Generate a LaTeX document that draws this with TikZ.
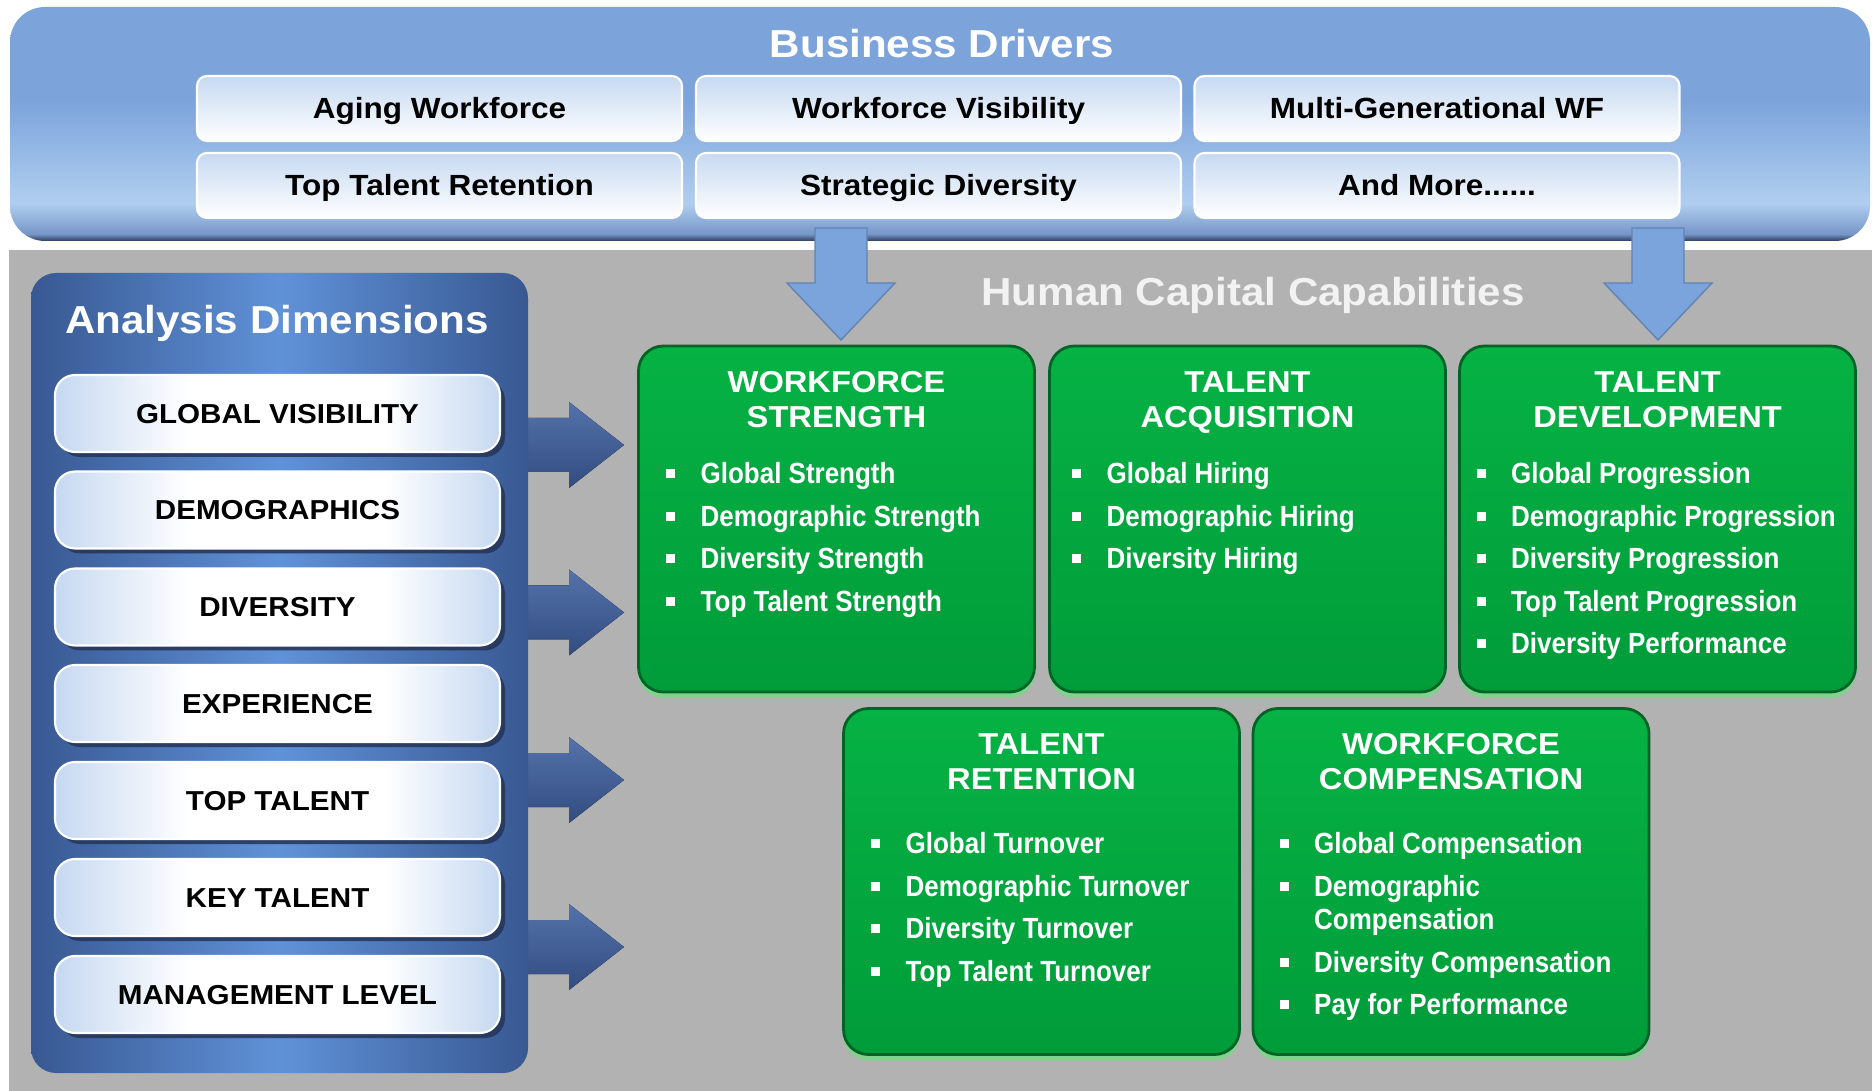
\documentclass[tikz,border=0pt]{standalone}
\usepackage{fontspec}
\setmainfont{Liberation Sans}[FakeStretch=1.08]
\newfontfamily\narrowfont{Liberation Sans}[FakeStretch=0.89]
\usetikzlibrary{shadows}

\definecolor{drvtop}{RGB}{124,164,219}
\definecolor{drvlight}{RGB}{176,206,239}
\definecolor{drvlow}{RGB}{118,150,200}
\definecolor{drvedge}{RGB}{44,60,88}
\definecolor{drvarrow}{RGB}{124,164,220}
\definecolor{btnblue}{RGB}{198,217,241}
\definecolor{btnshadow}{RGB}{38,52,86}
\definecolor{panelside}{RGB}{56,88,146}
\definecolor{panelmid}{RGB}{96,146,216}
\definecolor{sidetop}{RGB}{84,114,170}
\definecolor{sidebot}{RGB}{50,76,128}
\definecolor{gtop}{RGB}{6,178,68}
\definecolor{gbot}{RGB}{0,156,58}
\definecolor{gedge}{RGB}{0,100,38}
\definecolor{grim}{RGB}{128,210,140}
\definecolor{bggray}{RGB}{178,178,178}
\definecolor{capgray}{RGB}{242,242,242}

% blue band of the drivers box, dark bevel at the bottom
\pgfdeclareverticalshading{driversfade}{100bp}{color(0bp)=(drvedge); color(25bp)=(drvedge);
 color(26.5bp)=(drvlow); color(33bp)=(drvlight); color(55bp)=(drvtop); color(100bp)=(drvtop)}
% dimension buttons: white in the middle, blue at the ends
\pgfdeclarehorizontalshading{dimfade}{100bp}{color(0bp)=(btnblue); color(25bp)=(btnblue);
 color(40bp)=(white); color(62bp)=(white); color(75bp)=(btnblue); color(100bp)=(btnblue)}

% square bullet
\newcommand\sqb{\makebox[3.45mm][l]{\rule[0.55mm]{0.9mm}{0.9mm}}}

\begin{document}
\begin{tikzpicture}[x=0.1mm,y=-0.1mm,
 driverbox/.style={rounded corners=3.5mm,shading=driversfade,minimum width=186mm,minimum height=23.4mm,inner sep=0pt},
 drvbtn/.style={draw=white,line width=0.6pt,rounded corners=1mm,top color=btnblue,bottom color=white,
  minimum width=48.5mm,minimum height=6.5mm,font=\bfseries\fontsize{8.3}{10}\selectfont,text height=2.1mm,text depth=0pt},
 headline/.style={font=\bfseries\fontsize{11.1}{13}\selectfont,text height=2.8mm,text depth=0pt,inner sep=0pt},
 panel/.style={rounded corners=2.5mm,left color=panelside,right color=panelside,middle color=panelmid,
  minimum width=49.7mm,minimum height=80mm},
 dimbtn/.style={draw=white,line width=0.6pt,rounded corners=2mm,shading=dimfade,
  minimum width=44.5mm,minimum height=7.7mm,font=\bfseries\fontsize{7.8}{9}\selectfont,text height=2mm,text depth=0pt,
  drop shadow={shadow xshift=0.5mm,shadow yshift=-0.5mm,fill=btnshadow,opacity=0.85}},
 capbox/.style={rounded corners=2.5mm,top color=gtop,bottom color=gbot,draw=gedge,line width=0.8pt,
  minimum width=39.6mm,minimum height=34.6mm,drop shadow={shadow xshift=0mm,shadow yshift=-0.6mm,fill=grim,opacity=1}},
 captitle/.style={anchor=north,align=center,text=white,inner sep=0pt,font=\bfseries\fontsize{8.6}{10}\selectfont},
 caplist/.style={anchor=north west,align=left,text=white,inner sep=0pt,font=\narrowfont\bfseries\fontsize{8.3}{9.5}\selectfont},
 downarr/.style={fill=drvarrow,draw=drvarrow!80!black,line width=0.4pt},
 sidearr/.style={top color=sidetop,bottom color=sidebot}]
\fill[white] (0,0) rectangle (1872,1091);
\useasboundingbox (0,0) rectangle (1872,1091);
\fill[bggray] (9,250) rectangle (1872,1091);

% business drivers
\node[driverbox] (drivers) at (940,124) {};
\node[headline,text=white] (drvT) at (942,44) {Business Drivers};
\node[drvbtn] (aging) at (439.5,108.5) {Aging Workforce};
\node[drvbtn] (visib) at (938.5,108.5) {Workforce Visibility};
\node[drvbtn] (multi) at (1437,108.5) {Multi-Generational WF};
\node[drvbtn] (retain) at (439.5,185.5) {Top Talent Retention};
\node[drvbtn] (strat) at (938.5,185.5) {Strategic Diversity};
\node[drvbtn] (more) at (1437,185.5) {And More......};

\coordinate (dn1) at (815,228);
\coordinate (dn2) at (1632,228);
\fill[downarr] (dn1) -- ++(52,0) -- ++(0,55) -- ++(28,0) -- ++(-54,57) -- ++(-54,-57) -- ++(28,0) -- cycle;
\fill[downarr] (dn2) -- ++(52,0) -- ++(0,55) -- ++(28,0) -- ++(-54,57) -- ++(-54,-57) -- ++(28,0) -- cycle;
\node[headline,text=capgray] (hcT) at (1253,292) {Human Capital Capabilities};

% analysis dimensions
\coordinate (ra1) at (515,418);
\coordinate (ra2) at (515,585.5);
\coordinate (ra3) at (515,753);
\coordinate (ra4) at (515,920);
\fill[sidearr] (ra1) -- ++(54,0) -- ++(0,-16) -- ++(55,43) -- ++(-55,43) -- ++(0,-16) -- ++(-54,0) -- cycle;
\fill[sidearr] (ra2) -- ++(54,0) -- ++(0,-16) -- ++(55,43) -- ++(-55,43) -- ++(0,-16) -- ++(-54,0) -- cycle;
\fill[sidearr] (ra3) -- ++(54,0) -- ++(0,-16) -- ++(55,43) -- ++(-55,43) -- ++(0,-16) -- ++(-54,0) -- cycle;
\fill[sidearr] (ra4) -- ++(54,0) -- ++(0,-16) -- ++(55,43) -- ++(-55,43) -- ++(0,-16) -- ++(-54,0) -- cycle;
\node[panel] (panel) at (279.5,673) {};
\node[headline,text=white] (dimT) at (277,320) {Analysis Dimensions};
\node[dimbtn] (global) at (277.5,413.5) {GLOBAL VISIBILITY};
\node[dimbtn] (demo) at (277.5,510) {DEMOGRAPHICS};
\node[dimbtn] (divers) at (277.5,607) {DIVERSITY};
\node[dimbtn] (exper) at (277.5,703.5) {EXPERIENCE};
\node[dimbtn] (top) at (277.5,800.5) {TOP TALENT};
\node[dimbtn] (key) at (277.5,897.5) {KEY TALENT};
\node[dimbtn] (mgmt) at (277.5,994.5) {MANAGEMENT LEVEL};

% capability boxes
\node[capbox] (ws) at (836.5,519) {};
\node[capbox] (ta) at (1247.5,519) {};
\node[capbox] (td) at (1657.5,519) {};
\node[capbox] (tr) at (1041.5,881.5) {};
\node[capbox] (wc) at (1451,881.5) {};
\node[captitle] (wsT) at (836.5,371) {WORKFORCE\\STRENGTH};
\node[captitle] (taT) at (1247.5,371) {TALENT\\ACQUISITION};
\node[captitle] (tdT) at (1657.5,371) {TALENT\\DEVELOPMENT};
\node[captitle] (trT) at (1041.5,733) {TALENT\\RETENTION};
\node[captitle] (wcT) at (1451,733) {WORKFORCE\\COMPENSATION};
\node[caplist] (wsL) at (665.5,462) {\sqb Global Strength\\[2.6pt]\sqb Demographic Strength\\[2.6pt]
 \sqb Diversity Strength\\[2.6pt]\sqb Top Talent Strength};
\node[caplist] (taL) at (1071.5,462) {\sqb Global Hiring\\[2.6pt]\sqb Demographic Hiring\\[2.6pt]\sqb Diversity Hiring};
\node[caplist] (tdL) at (1476,462) {\sqb Global Progression\\[2.6pt]\sqb Demographic Progression\\[2.6pt]
 \sqb Diversity Progression\\[2.6pt]\sqb Top Talent Progression\\[2.6pt]\sqb Diversity Performance};
\node[caplist] (trL) at (870.5,832) {\sqb Global Turnover\\[2.6pt]\sqb Demographic Turnover\\[2.6pt]
 \sqb Diversity Turnover\\[2.6pt]\sqb Top Talent Turnover};
\node[caplist] (wcL) at (1279,832) {\sqb Global Compensation\\[2.6pt]\sqb Demographic\\\hspace*{3.45mm}Compensation\\[2.6pt]
 \sqb Diversity Compensation\\[2.6pt]\sqb Pay for Performance};
\end{tikzpicture}
\end{document}
